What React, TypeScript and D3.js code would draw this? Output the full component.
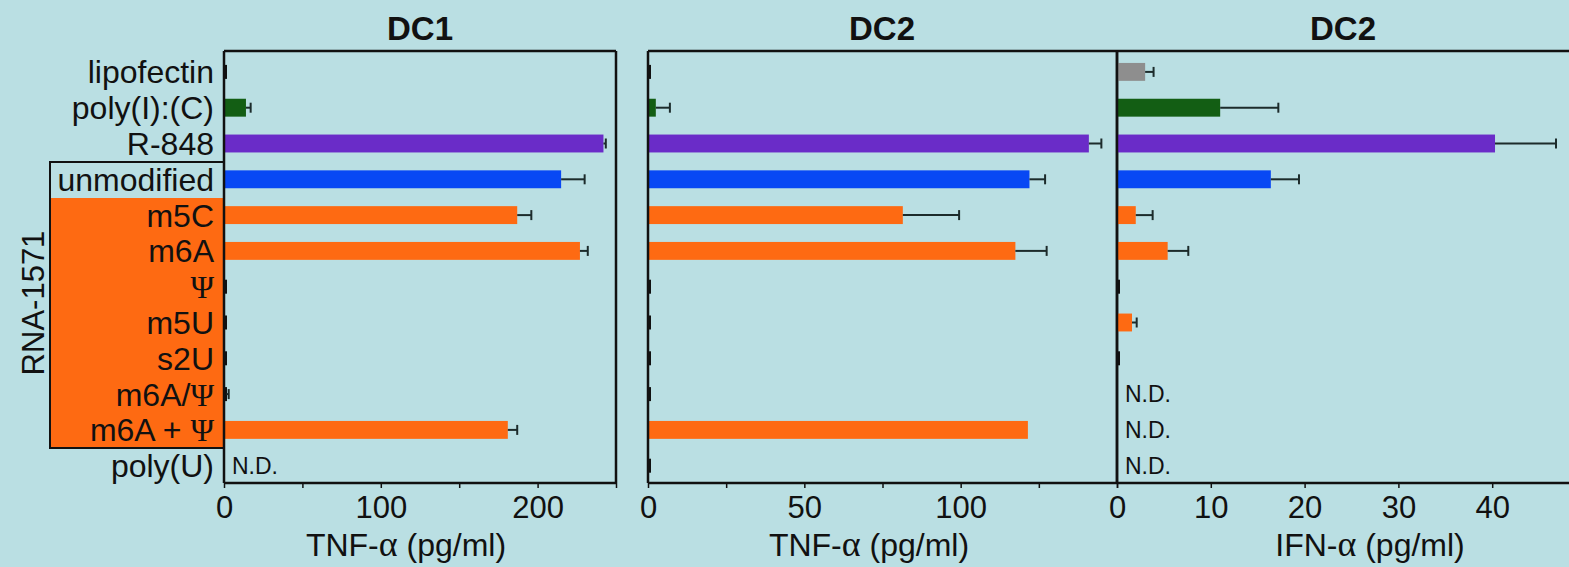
import React, { useRef, useEffect } from 'react';
import * as d3 from 'd3';

const categories = ['lipofectin', 'poly(I):(C)', 'R-848', 'unmodified', 'm5C', 'm6A', 'Ψ', 'm5U', 's2U', 'm6A/Ψ', 'm6A + Ψ', 'poly(U)'];
const barColors = ['#8e8e8e', '#135e14', '#6a2cc8', '#0848f4', '#fe6a12', '#fe6a12', '#fe6a12', '#fe6a12', '#fe6a12', '#fe6a12', '#fe6a12', '#fe6a12'];

// null = N.D.
const tnfDC1 = [0.8, 14, 242, 215, 187, 227, 1, 1, 1, 1.5, 181, null];
const tnfDC1Err = [0, 3, 1.5, 15, 9, 5, 0, 0, 0, 1.5, 6, 0];
const tnfDC2 = [0.8, 2.5, 141, 122, 81.5, 117.5, 0.8, 0.8, 0.8, 0.8, 121.5, 0.8];
const tnfDC2Err = [0, 4.5, 4, 5, 18, 10, 0, 0, 0, 0, 0, 0];
const ifnDC2 = [3, 11, 40.3, 16.4, 2, 5.4, 0.3, 1.6, 0.3, null, null, null];
const ifnDC2Err = [0.9, 6.2, 6.5, 3, 1.8, 2.2, 0, 0.5, 0, 0, 0, 0];

const panelTitles = ['DC1', 'DC2', 'DC2'];
const axisTitles = [['TNF-', ' (pg/ml)'], ['TNF-', ' (pg/ml)'], ['IFN-', ' (pg/ml)']];
const tickValues = [[0, 50, 100, 150, 200, 250], [0, 25, 50, 75, 100, 125, 150], [0, 10, 20, 30, 40]];
const tickLabels = [[0, 100, 200], [0, 50, 100], [0, 10, 20, 30, 40]];

const W = 1569;
const H = 567;
const SANS = '"Liberation Sans", Arial, Helvetica, sans-serif';
const SERIF = '"Liberation Serif", "DejaVu Serif", serif';
const INK = '#111';

const App = () => {
  const svgRef = useRef(null);

  useEffect(() => {
    const top = 51;
    const bottom = 483;

    const y = d3.scaleBand()
      .domain(categories)
      .range([54, 54 + 12 * 35.8])
      .paddingInner(0.5)
      .paddingOuter(0.25);

    const panels = [
      { vals: tnfDC1, errs: tnfDC1Err, x: d3.scaleLinear().domain([0, 250]).range([224, 616]), right: 616, frameRight: true, titleX: 420, axisX: 406 },
      { vals: tnfDC2, errs: tnfDC2Err, x: d3.scaleLinear().domain([0, 150]).range([648, 1117]), right: 1117, frameRight: true, titleX: 882, axisX: 869 },
      { vals: ifnDC2, errs: ifnDC2Err, x: d3.scaleLinear().domain([0, 50]).range([1117, 1586]), right: W, frameRight: false, titleX: 1343, axisX: 1370 },
    ];

    const svg = d3.select(svgRef.current)
      .attr('width', W)
      .attr('height', H)
      .html('');

    svg.append('rect').attr('width', W).attr('height', H).attr('fill', '#badfe3');

    // RNA-1571 group box
    svg.append('rect')
      .attr('x', 50).attr('y', 198).attr('width', 174).attr('height', 250)
      .attr('fill', '#fe6a12');
    svg.append('rect')
      .attr('x', 50).attr('y', 162).attr('width', 174).attr('height', 286)
      .attr('fill', 'none').attr('stroke', INK).attr('stroke-width', 2);
    svg.append('text')
      .attr('transform', 'translate(44,303) rotate(-90)')
      .attr('text-anchor', 'middle')
      .attr('font-family', SANS).attr('font-size', 31).attr('fill', INK)
      .text('RNA-1571');

    // row labels
    const labels = svg.append('g')
      .attr('font-family', SANS).attr('font-size', 32).attr('fill', INK)
      .attr('text-anchor', 'end');
    categories.forEach(c => {
      const t = labels.append('text')
        .attr('x', 214)
        .attr('y', y(c) + y.bandwidth() / 2)
        .attr('dy', '0.36em');
      c.split(/(Ψ)/).filter(s => s).forEach(s => {
        const ts = t.append('tspan').text(s);
        if (s === 'Ψ') ts.attr('font-family', SERIF);
      });
    });

    panels.forEach((p, i) => {
      const g = svg.append('g');
      const x0 = p.x(0);

      // title
      g.append('text')
        .attr('x', p.titleX).attr('y', 40)
        .attr('text-anchor', 'middle')
        .attr('font-family', SANS).attr('font-weight', 'bold').attr('font-size', 33).attr('fill', INK)
        .text(panelTitles[i]);

      // bars
      categories.forEach((c, j) => {
        const v = p.vals[j];
        const yc = y(c) + y.bandwidth() / 2;
        if (v === null) {
          g.append('text')
            .attr('x', x0 + 8).attr('y', yc).attr('dy', '0.36em')
            .attr('font-family', SANS).attr('font-size', 23).attr('fill', INK)
            .text('N.D.');
          return;
        }
        const w = p.x(v) - x0;
        const stub = w < 4;
        g.append('rect')
          .attr('x', x0)
          .attr('y', stub ? yc - 7 : y(c))
          .attr('width', Math.max(w, 3))
          .attr('height', stub ? 14 : y.bandwidth())
          .attr('fill', stub ? INK : barColors[j]);
        const e = p.errs[j];
        if (e > 0) {
          const xe = p.x(v + e);
          g.append('line')
            .attr('x1', p.x(v)).attr('x2', xe).attr('y1', yc).attr('y2', yc)
            .attr('stroke', '#1c2b2b').attr('stroke-width', 2);
          g.append('line')
            .attr('x1', xe).attr('x2', xe).attr('y1', yc - 5).attr('y2', yc + 5)
            .attr('stroke', '#1c2b2b').attr('stroke-width', 2);
        }
      });

      // frame
      g.append('line').attr('x1', x0).attr('x2', p.right).attr('y1', top).attr('y2', top)
        .attr('stroke', INK).attr('stroke-width', 2.5);
      g.append('line').attr('x1', x0).attr('x2', x0).attr('y1', top).attr('y2', bottom)
        .attr('stroke', INK).attr('stroke-width', 2.5);
      if (p.frameRight) {
        g.append('line').attr('x1', p.right).attr('x2', p.right).attr('y1', top).attr('y2', bottom)
          .attr('stroke', INK).attr('stroke-width', 2.5);
      }

      // x axis
      const axis = g.append('g')
        .attr('transform', `translate(0,${bottom})`)
        .call(d3.axisBottom(p.x)
          .tickValues(tickValues[i])
          .tickSize(5)
          .tickFormat(d => (tickLabels[i].includes(d) ? String(d) : '')));
      axis.select('.domain').remove();
      axis.append('line').attr('x1', x0).attr('x2', p.right).attr('stroke', INK).attr('stroke-width', 2.5);
      axis.selectAll('.tick line').attr('stroke', INK).attr('stroke-width', 1.5);
      axis.selectAll('.tick text')
        .attr('font-family', SANS).attr('font-size', 31).attr('fill', INK)
        .attr('y', 35).attr('dy', 0);

      const at = g.append('text')
        .attr('x', p.axisX).attr('y', 556)
        .attr('text-anchor', 'middle')
        .attr('font-family', SANS).attr('font-size', 32).attr('fill', INK);
      at.append('tspan').text(axisTitles[i][0]);
      at.append('tspan').attr('font-family', SERIF).attr('font-size', 36).text('α');
      at.append('tspan').text(axisTitles[i][1]);
    });
  }, []);

  return <svg ref={svgRef} style={{ position: 'absolute', left: 0, top: 0, display: 'block' }} />;
};

export default App;
